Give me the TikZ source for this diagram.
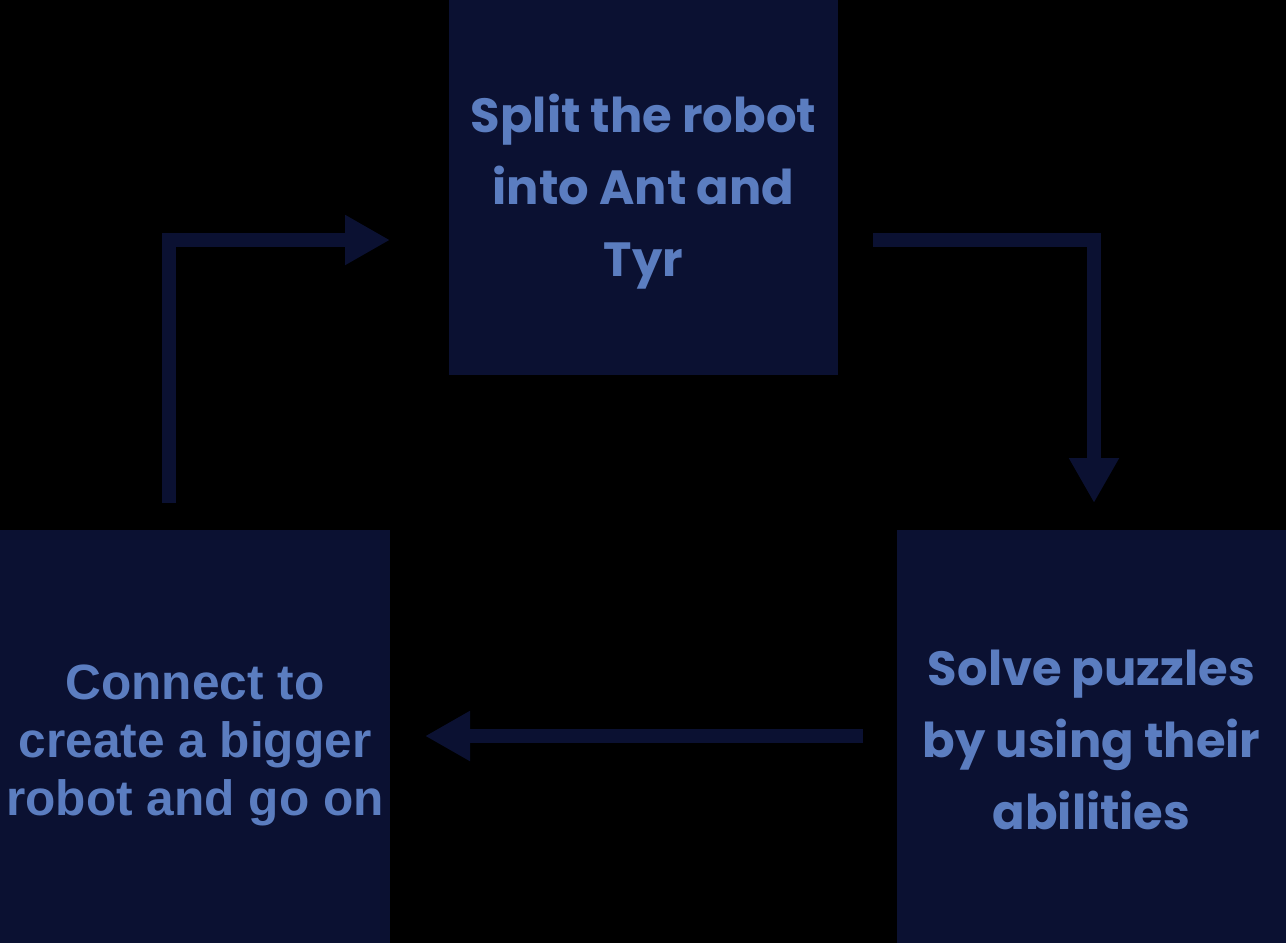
\documentclass[tikz,border=0pt]{standalone}
\usepackage{fontspec}
\setmainfont{Poppins}
\newfontfamily\plainsans{Liberation Sans}
\usetikzlibrary{arrows.meta}

\definecolor{boxnavy}{HTML}{0B1132}
\definecolor{labelblue}{HTML}{5B7DC0}

\tikzset{
    stagebox/.style={fill=boxnavy, inner sep=0pt, minimum width=389*0.75pt},
    stagetext/.style={text=labelblue, align=center, inner sep=0pt,
        font=\bfseries\fontsize{36}{54}\selectfont},
    flow/.style={draw=boxnavy, line width=10.5pt, line join=miter,
        -{Triangle[length=33.75pt, width=35.25pt]}}
}

\begin{document}
\begin{tikzpicture}[x=0.75pt, y=-0.75pt]
    \fill[black](0,0) rectangle (1286,943);
    % the three stages
    \node[stagebox, minimum height=375*0.75pt,
        label={[stagetext, yshift=-3pt]center:Split the robot\\into Ant and\\Tyr}](split) at (643.5,187.5){};
    \node[stagebox, minimum height=413*0.75pt,
        label={[stagetext, yshift=-2.25pt]center:Solve puzzles\\by using their\\abilities}](solve) at (1091.5,736.5){};
    \node[stagebox, minimum width=390*0.75pt, minimum height=413*0.75pt,
        label={[stagetext, yshift=-6.75pt, font=\plainsans\bfseries\fontsize{37.2}{43.5}\selectfont]center:Connect to\\create a bigger\\robot and go on}](connect) at (195,736.5){};
    % arrows between them
    \coordinate(upstart) at (169,503);
    \coordinate(upend) at (390,240);
    \coordinate(dnstart) at (873,240);
    \coordinate(dnend) at (1094,503);
    \coordinate(lfstart) at (863,736);
    \coordinate(lfend) at (425,736);
    \draw[flow](upstart) |- (upend);
    \draw[flow](dnstart) -| (dnend);
    \draw[flow](lfstart) -- (lfend);
\end{tikzpicture}
\end{document}
